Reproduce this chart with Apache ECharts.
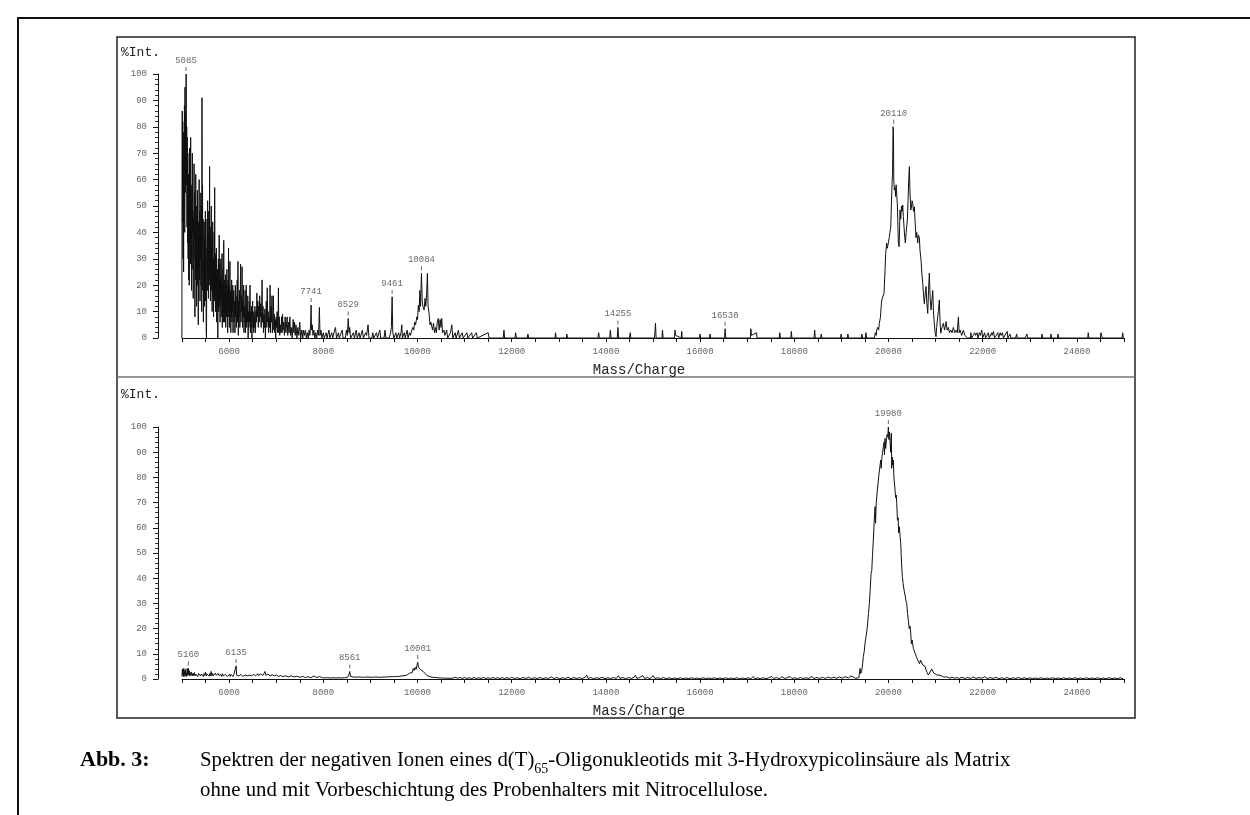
<!DOCTYPE html>
<html>
<head>
<meta charset="utf-8">
<script src="https://cdn.jsdelivr.net/npm/echarts@6/dist/echarts.min.js"></script>
<style>
html,body{margin:0;padding:0;background:#fff;}
#chart{width:1250px;height:815px;}
</style>
</head>
<body>
<div id="chart"></div>
<script>
// ---------- DATA ----------
// Upper spectrum (without nitrocellulose): [m/z, %Int]
const topSpectrum = [
[4998,0],[5000,45],[5005,86],[5010,44],[5016,82],[5022,30],[5028,78],[5034,25],[5040,72],[5046,48],[5052,88],[5058,40],[5064,95],[5070,55],[5076,85],[5082,62],[5088,100],[5094,58],[5100,80],[5106,42],[5112,76],[5118,36],[5124,70],[5130,30],[5136,62],[5142,22],[5148,56],[5154,20],[5160,72],[5166,35],[5172,64],[5178,28],[5184,76],[5190,38],[5196,58],[5202,18],[5208,52],[5214,26],[5220,70],[5226,40],[5232,48],[5238,15],[5244,45],[5250,30],[5256,66],[5262,38],[5268,55],[5274,8],[5280,40],[5286,22],[5292,62],[5298,30],[5304,50],[5310,12],[5316,46],[5322,25],[5328,56],[5334,20],[5340,36],[5346,5],[5352,44],[5358,28],[5364,60],[5370,22],[5376,48],[5382,14],[5388,42],[5394,30],[5400,55],[5406,20],[5412,50],[5418,10],[5424,91],[5430,35],[5436,58],[5442,18],[5448,45],[5454,6],[5460,30],[5466,20],[5472,44],[5478,12],[5484,38],[5490,22],[5496,48],[5502,14],[5508,34],[5514,2],[5520,0],[5526,28],
[5532,45],[5538,18],[5544,52],[5550,25],[5556,40],[5562,15],[5568,48],[5574,22],[5580,36],[5586,65],[5592,20],[5598,42],[5604,14],[5610,38],[5616,24],[5622,50],[5628,18],[5634,34],[5640,10],[5646,30],[5652,44],[5658,16],[5664,30],[5670,8],[5676,26],[5682,40],[5688,14],[5694,57],[5700,20],[5706,32],[5712,10],[5718,28],[5724,18],[5730,34],[5736,6],[5742,22],[5748,12],[5754,26],[5760,0],[5766,20],
[5772,30],[5778,10],[5784,24],[5790,39],[5796,12],[5802,28],[5808,6],[5814,22],[5820,14],[5826,30],[5832,8],[5838,24],[5844,16],[5850,32],[5856,4],[5862,20],[5868,12],[5874,26],[5880,6],[5886,37],[5892,14],[5898,22],[5904,6],[5910,18],[5916,10],[5922,24],[5928,4],[5934,16],[5940,20],[5946,8],[5952,26],[5958,10],[5964,18],[5970,2],[5976,22],[5982,12],[5988,34],[5994,8],[6000,20],[6006,4],[6012,16],[6018,29],[6024,10],[6030,18],[6036,2],[6042,14],[6048,8],[6054,22],[6060,6],[6066,16],[6072,10],[6078,20],[6084,2],[6090,12],
[6100,18],[6108,6],[6116,14],[6124,2],[6132,20],[6140,8],[6148,16],[6156,4],[6164,12],[6172,22],[6180,6],[6188,29],[6196,1],[6204,14],[6212,8],[6220,18],[6228,4],[6236,12],[6244,28],[6252,6],[6260,16],[6268,10],[6276,27],[6284,4],[6292,14],[6300,8],[6308,20],[6316,2],[6324,12],[6332,6],[6340,18],[6348,2],[6356,10],[6364,20],[6372,4],[6380,12],[6388,6],[6396,16],[6404,0],[6412,10],[6420,4],[6428,14],[6436,6],[6444,20],[6452,2],[6460,10],[6468,4],[6476,12],[6484,0],[6492,8],[6500,14],[6508,4],[6516,10],[6524,2],[6532,8],[6540,4],[6548,12],
[6560,2],[6570,10],[6580,6],[6590,17],[6600,8],[6610,14],[6620,4],[6630,12],[6640,6],[6650,16],[6660,8],[6670,13],[6680,4],[6690,10],[6700,22],[6710,6],[6720,12],[6730,2],[6740,9],[6750,4],[6760,11],[6770,0],[6780,8],[6790,14],[6800,4],[6810,19],[6820,6],[6830,10],[6840,2],[6850,8],[6860,4],[6870,20],[6880,2],[6890,12],[6900,6],[6910,16],[6920,2],[6930,8],[6940,16],[6950,3],[6960,9],[6970,2],[6980,7],[6990,0],[7000,8],[7010,4],[7020,10],[7030,2],[7040,6],[7047,19],[7055,2],[7065,8],[7075,1],[7085,5],
[7100,2],[7115,8],[7125,2],[7135,9],[7145,3],[7160,6],[7175,1],[7190,8],[7205,2],[7220,5],[7232,8],[7245,1],[7260,6],[7275,2],[7290,8],[7305,1],[7320,4],[7340,0],[7360,7],[7375,2],[7390,6],[7405,1],[7420,5],[7440,0],[7460,4],[7480,1],[7500,6],[7520,0],[7545,3],[7565,0],[7580,3],[7600,1],[7620,3],[7640,0],[7660,2],[7680,0],[7700,3],[7715,1],[7730,5],[7741,12.5],[7750,3],[7765,5],[7780,1],[7800,3],[7820,0],[7840,2],[7860,0],[7880,3],[7900,1],[7917,11.6],[7930,1],[7950,3],[7970,0],
[8000,2],[8020,0],[8060,2],[8080,0],[8120,3],[8140,0],[8180,2],[8200,0],[8240,3],[8260,4],[8280,0],[8320,2],[8340,0],[8400,3],[8420,0],[8470,0],[8490,3],[8510,1],[8529,7.4],[8545,2],[8560,4],[8580,0],[8620,0],[8640,2],[8660,0],[8700,3],[8720,0],[8760,2],[8780,0],[8830,3],[8850,0],[8900,2],[8920,1],[8950,5],[8970,0],[9030,0],[9050,2],[9070,0],[9130,2],[9150,0],[9200,3],[9220,0],[9290,0],[9310,3],[9330,0],[9400,0],[9430,2],[9445,4],[9461,15.6],[9475,2],[9500,0],
[9540,2],[9560,0],[9600,2],[9620,0],[9650,2],[9666,5],[9680,0],[9720,2],[9740,0],[9780,3],[9800,0],[9830,2],[9850,1],[9880,3],[9900,4],[9920,3],[9940,6],[9960,5],[9985,8],[10000,7],[10019,12.5],[10035,10],[10050,18],[10065,12],[10084,24.5],[10100,14],[10115,12],[10140,10.6],[10160,15],[10176,12],[10195,17],[10210,24.5],[10225,12],[10246,9.3],[10265,5],[10285,6],[10303,4.3],[10320,3],[10340,5.6],[10360,2],[10380,4],[10400,2],[10420,6],[10440,7.4],[10460,3],[10480,7],[10500,4],[10515,7.4],[10530,2],[10560,3],[10580,1],[10620,3],[10640,0],[10700,2],[10728,5],[10750,0],[10800,2],[10820,0],[10870,3],[10890,0],[10950,2],[10970,0],
[11050,2],[11070,0],[11150,2],[11170,0],[11250,2],[11270,0],[11500,2],[11520,0],[11820,0],[11836,3],[11850,0],[12070,0],[12083,2],[12100,0],[12330,0],[12344,1.5],[12360,0],[12920,0],[12930,2],[12945,0],[13160,0],[13170,1.5],[13185,0],[13830,0],[13847,2],[13860,0],[14080,0],[14095,3],[14110,0],[14240,0],[14255,4],[14270,0],[14500,0],[14517,2],[14530,0],[15030,0],[15040,2],[15053,5.6],[15066,0],[15190,0],[15201,3],[15215,0],[15455,0],[15469,3],[15480,1],[15600,0],[15610,2.5],[15620,0],[15990,0],[15999,1.5],[16010,0],[16200,0],[16210,1.5],[16225,0],[16520,0],[16530,3.5],[16545,0],[17065,0],[17078,3.5],[17090,1],[17197,2],[17210,0],[17680,0],[17692,2],[17705,0],[17925,0],[17937,2.5],[17950,0],[18420,0],[18432,3],[18445,0],[18560,0],[18572,1.5],[18585,0],[18980,0],[18995,1.5],[19010,0],[19125,0],[19138,1.5],[19150,0],[19420,0],[19434,1.5],[19450,0],[19510,0],[19520,2],[19535,0],
[19700,0],[19720,2],[19740,1],[19750,3],[19770,4],[19790,3],[19805,5.5],[19830,8],[19845,12],[19857,14.4],[19880,15],[19905,17],[19925,25],[19940,32],[19948,33.3],[19960,36],[19975,34],[19997,35.9],[20015,38],[20030,40],[20048,42],[20060,50],[20076,58.6],[20085,62],[20097,80],[20105,78],[20112,60],[20125,56],[20140,57],[20150,53.6],[20162,58],[20175,58],[20190,50],[20200,42],[20210,36],[20225,34.6],[20245,48.5],[20260,45],[20275,50],[20290,48],[20302,50.4],[20315,46],[20330,42],[20345,38],[20358,36],[20375,40],[20400,44.7],[20415,52],[20430,60],[20443,64.9],[20455,56],[20473,48.5],[20490,50],[20500,52],[20515,51],[20530,48],[20549,49.7],[20565,44],[20584,38],[20600,40],[20621,36],[20635,39],[20655,38],[20670,33],[20691,29.5],[20710,24],[20727,20.7],[20745,16],[20761,13],[20780,17],[20797,19.5],[20815,13],[20833,9.3],[20850,18],[20867,24.6],[20885,15],[20903,10.6],[20920,14],[20939,18],[20955,10],[20967,6.8],[20990,2],[21009,0.5],[21022,4],[21037,6.8],[21058,10],[21080,14.4],[21095,6],[21110,1.8],[21135,4],[21165,5.6],[21190,3],[21210,5],[21223,6.2],[21245,3],[21271,4],[21295,2],[21322,3],[21350,2],[21377,4],[21405,2],[21435,3],[21460,2],[21484,8],[21500,2],[21520,3],[21555,1],[21590,3],[21620,1],[21646,1],[21680,0],
[21740,0],[21750,2],[21762,0],[21800,1],[21830,2],[21850,1],[21880,2],[21900,0],[21930,2],[21950,1],[21980,3],[22000,0],[22040,2],[22060,0],[22120,2],[22140,0],[22190,2],[22200,1],[22230,2.5],[22250,0],[22320,2],[22340,0],[22370,2],[22390,1],[22420,2],[22440,0],[22520,2.5],[22535,0],[22580,1.5],[22600,0],[22700,0],[22720,1.5],[22735,0],[22900,0],[22940,1.5],[22955,0],[23250,0],[23260,1.5],[23275,0],[23440,0],[23450,1.5],[23465,0],[23590,0],[23600,1.5],[23615,0],[24230,0],[24240,2],[24255,0],[24500,0],[24510,2],[24525,1.5],[24540,0],[24960,0],[24972,2],[24985,0]
];

// Lower spectrum (with nitrocellulose): [m/z, %Int]
const bottomSpectrum = [
[5000,1],[5008,4],[5015,1.5],[5022,3.5],[5030,1],[5038,4.2],[5046,1.5],[5054,3],[5062,1],[5070,3.8],[5080,1.5],[5090,2.5],[5100,1],[5110,4.2],[5120,1.5],[5130,3],[5136,4.2],[5145,1.5],[5155,3.3],[5165,1.2],[5175,2.5],[5185,1.5],[5200,2.8],[5215,1.2],[5230,2.2],[5245,1.4],[5260,2.6],[5275,1.2],[5290,2],[5305,1.3],[5320,2.4],[5335,1],[5350,2.2],[5365,1.5],[5380,2.6],[5395,1.2],[5410,2],[5425,1.4],[5440,2.5],[5455,1],[5470,2.2],[5485,1.4],[5500,2.8],[5515,1.2],[5530,2],[5545,1.5],[5560,2.4],[5575,1.1],[5590,2.2],[5605,1.4],[5620,3],[5635,1.2],[5650,2.2],[5665,1.3],[5680,2],[5695,1.1],[5710,2.3],[5725,1.5],[5740,2.1],[5755,1],[5770,2.2],[5785,1.4],[5800,2],[5815,1.2],[5830,1.8],[5845,1],[5860,2.1],[5875,1.3],[5890,1.9],[5905,1],[5920,1.8],[5935,1.2],[5950,2],[5965,1],[5980,1.7],[5995,1.1],[6010,1.9],[6025,1],[6040,1.8],[6055,1.2],[6070,1.6],[6085,1],[6100,1.8],[6115,1.2],[6130,2],[6149,5.2],[6160,1.5],[6175,1],[6190,1.7],[6205,1.2],[6220,1.6],[6235,0.9],[6250,1.8],[6265,1.1],[6280,1.5],[6295,1],[6310,1.7],[6325,1.2],[6340,1.6],[6355,1],[6370,1.8],[6385,1.3],[6400,1.6],[6415,1],[6430,1.5],[6445,1.2],[6460,1.9],[6475,1.3],[6490,1.7],[6505,1.2],[6520,1.8],[6535,1.4],[6550,2],[6565,1.3],[6580,1.9],[6595,1.5],[6610,2.1],[6625,1.3],[6640,1.8],[6655,1.4],[6670,2],[6685,1.5],[6700,2.1],[6715,1.4],[6730,2],[6745,1.6],[6764,3],[6780,1.5],[6795,2.2],[6810,1.3],[6825,2],[6840,1.4],[6855,1.9],[6870,1.2],[6885,1.8],[6900,1.2],[6915,1.7],[6930,1.1],[6945,1.6],[6960,1.2],[6975,1.8],[6990,1],[7005,1.6],[7020,1.1],[7035,1.5],[7050,1],[7065,1.5],[7080,0.9],[7095,1.4],[7110,1],[7125,1.5],[7140,0.9],[7160,1.4],[7180,0.8],[7200,1.3],[7220,0.9],[7240,1.4],[7260,0.8],[7280,1.2],[7300,0.8],[7320,1.3],[7340,0.7],[7360,1.2],[7380,0.8],[7400,1.3],[7420,0.7],[7440,1.1],[7460,0.8],[7480,1.2],[7500,0.7],[7520,1.1],[7540,0.6],[7560,1],[7580,0.7],[7600,1.1],[7620,0.6],[7640,1],[7660,0.6],[7680,0.9],[7700,0.6],[7720,1],[7740,0.5],[7760,0.9],[7780,0.6],[7800,1.2],[7820,0.5],[7840,0.9],[7860,0.6],[7880,0.8],[7900,0.5],[7920,1],[7940,0.5],[7960,0.9],[7980,0.5],[8000,0.8],[8030,0.5],[8060,0.9],[8090,0.5],[8120,0.8],[8150,0.4],[8180,0.9],[8210,0.5],[8240,0.8],[8270,0.4],[8300,0.7],[8330,0.5],[8360,0.8],[8390,0.4],[8420,0.7],[8450,0.5],[8480,0.8],[8510,0.6],[8540,1.5],[8561,3],[8575,1],[8600,0.6],[8630,0.8],[8660,0.4],[8690,0.7],[8720,0.4],[8750,0.8],[8780,0.4],[8810,0.7],[8840,0.3],[8870,0.7],[8900,0.4],[8930,0.8],[8960,0.4],[8990,0.7],[9020,0.3],[9050,0.7],[9080,0.4],[9110,0.8],[9140,0.4],[9170,0.7],[9200,0.3],[9230,0.7],[9260,0.4],[9290,0.8],[9320,0.4],[9350,0.8],[9380,0.5],[9410,0.9],[9440,0.5],[9470,0.9],[9500,0.6],[9530,1],[9560,0.6],[9590,1],[9620,0.7],[9650,1.2],[9680,0.8],[9710,1.3],[9740,0.9],[9770,1.5],[9800,1.2],[9830,2.3],[9850,2],[9870,3],[9890,2.6],[9910,4.2],[9930,3.4],[9950,4.6],[9970,3.8],[9990,5.5],[10005,6.7],[10020,4.6],[10035,5.2],[10050,4.9],[10065,3.8],[10080,4.4],[10100,3.7],[10120,3],[10140,2.6],[10160,2.2],[10180,1.7],[10200,1.4],[10225,1.7],[10250,1],[10280,1.3],[10310,0.7],[10340,1.1],[10370,0.6],[10400,1],[10430,0.5],[10460,0.9],[10490,0.4],[10520,0.8],[10550,0.4],[10580,0.9],[10610,0.3],[10640,0.7],[10670,0.3],[10700,0.6],[10750,0.3],[10800,0.7],[10850,0.3],[10900,0.6],[10950,0.2],[11000,0.6],[11050,0.2],[11100,0.5],[11150,0.2],[11200,0.6],[11250,0.2],[11300,0.5],[11350,0.2],[11400,0.6],[11450,0.2],[11500,0.5],[11550,0.2],[11600,0.6],[11650,0.2],[11700,0.5],[11750,0.2],[11800,0.6],[11850,0.1],
[11900,0.6],[11950,0.1],[12000,0.7],[12060,0.2],[12120,0.5],[12180,0.1],[12240,0.6],[12300,0.2],[12360,0.7],[12420,0.1],[12480,0.5],[12540,0.2],[12600,0.6],[12660,0.1],[12720,0.5],[12780,0.2],[12840,0.8],[12900,0.2],[12960,0.6],[13020,0.1],[13080,0.5],[13140,0.2],[13200,0.7],[13260,0.1],[13320,0.6],[13380,0.2],[13440,0.5],[13500,0.2],[13560,0.7],[13593,1.5],[13620,0.2],[13680,0.6],[13740,0.1],[13800,0.5],[13860,0.2],[13920,0.7],[13980,0.1],[14040,0.5],[14100,0.2],[14160,0.6],[14220,0.2],[14265,1.3],[14300,0.2],[14360,0.6],[14420,0.1],[14480,0.6],[14540,0.2],[14600,0.7],[14625,1.5],[14660,0.2],[14720,0.6],[14780,1.4],[14820,0.2],[14880,0.6],[14940,0.1],[15000,1.4],[15040,0.2],[15100,0.5],[15160,0.1],[15220,0.6],[15280,0.1],[15340,0.5],[15400,0.1],[15460,0.4],[15520,0.1],[15580,0.5],[15640,0.1],[15700,0.4],[15760,0.1],[15820,0.5],[15880,0.1],[15940,0.4],[16000,0.1],[16060,0.5],[16120,0.1],[16180,0.4],[16240,0.1],[16300,0.5],[16360,0.1],[16420,0.4],[16480,0.1],[16540,0.5],[16600,0.1],[16660,0.4],[16720,0.1],[16780,0.5],[16840,0.1],[16900,0.4],[16960,0.1],[17020,0.5],[17080,0.1],[17125,1],[17160,0.1],[17220,0.4],[17280,0.1],[17340,0.5],[17400,0.1],[17460,0.5],[17520,1],[17560,0.2],[17620,0.6],[17680,0.1],[17740,0.9],[17800,0.2],[17860,0.6],[17910,1],[17950,0.2],[18010,0.5],[18070,0.1],[18130,0.6],[18190,0.2],[18250,0.5],[18310,0.2],[18370,1],[18420,0.2],[18480,0.6],[18540,0.2],[18600,0.7],[18660,0.2],[18720,0.8],[18780,0.3],[18840,0.7],[18900,0.3],[18960,0.8],[19020,0.3],[19080,0.9],[19115,1.5],[19150,0.4],[19200,1.2],[19220,1.5],
[19250,0.8],[19300,0.3],[19340,1],[19370,0.5],[19396,4.2],[19410,2.2],[19430,3],[19450,6],[19466,8.9],[19485,11],[19502,14.2],[19525,17],[19551,20.7],[19575,26],[19594,30],[19610,35],[19630,41.9],[19645,43],[19660,49],[19678,55.2],[19695,62],[19714,68.4],[19725,61.8],[19740,70],[19763,75],[19780,78],[19799,81.6],[19815,84],[19835,86.9],[19845,83.6],[19860,88],[19875,90],[19891,92.2],[19905,94],[19915,89],[19927,95.5],[19940,91.5],[19955,95],[19970,97],[19985,96],[19997,100],[20010,95],[20020,98],[20033,94.8],[20045,90],[20061,97.5],[20068,83.6],[20080,88],[20090,85],[20103,86.9],[20115,80],[20133,76.3],[20150,72],[20165,73],[20175,69.7],[20190,63],[20205,64],[20215,58],[20230,60.4],[20245,57],[20260,53.8],[20277,46],[20294,40.6],[20310,38],[20330,35.3],[20355,33],[20370,31],[20387,30],[20405,26],[20421,23.4],[20440,20],[20458,21],[20473,18.1],[20485,14],[20500,15.5],[20530,12],[20564,10.3],[20590,9],[20610,8],[20634,7.6],[20660,6],[20680,7.5],[20706,7],[20730,5.5],[20750,6],[20776,5],[20800,3.5],[20820,2.5],[20846,1.6],[20870,2],[20895,3.2],[20915,4],[20940,3.6],[20960,2.4],[20990,2],[21024,1.6],[21060,1.2],[21095,1.5],[21130,1],[21170,0.8],[21210,0.5],[21250,0.8],[21300,0.3],[21350,0.7],[21400,0.3],[21450,0.6],[21500,0.2],[21560,0.7],[21620,0.2],[21680,0.6],[21740,0.2],[21800,0.8],[21860,0.2],[21920,0.6],[21980,0.3],[22040,0.9],[22100,0.2],
[22160,0.6],[22220,0.2],[22280,0.7],[22340,0.1],[22400,0.5],[22460,0.2],[22520,0.6],[22580,0.1],[22640,0.5],[22700,0.2],[22760,0.6],[22820,0.1],[22880,0.5],[22940,0.1],[23000,0.5],[23060,0.1],[23120,0.4],[23180,0.1],[23240,0.5],[23300,0.1],[23360,0.4],[23420,0.1],[23480,0.5],[23540,0.1],[23600,0.4],[23660,0.1],[23720,0.5],[23780,0.1],[23840,0.4],[23900,0.1],[23960,0.5],[24020,0.1],[24080,0.4],[24140,0.1],[24200,0.5],[24260,0.1],[24320,0.4],[24380,0.1],[24440,0.5],[24500,0.1],[24560,0.4],[24620,0.1],[24680,0.5],[24740,0.1],[24800,0.4],[24860,0.1],[24920,0.5],[24980,0.1]
];

// Annotated peaks: [m/z, %Int, label]
const topPeaks = [[5085,100,'5085'],[7741,12.5,'7741'],[8529,7.4,'8529'],[9461,15.6,'9461'],[10084,24.5,'10084'],[14255,4,'14255'],[16530,3.5,'16530'],[20110,80,'20110']];
const bottomPeaks = [[5136,4.2,'5160'],[6149,5.2,'6135'],[8561,3,'8561'],[10005,6.7,'10001'],[19997,100,'19980']];

const xTickLabels = [6000,8000,10000,12000,14000,16000,18000,20000,22000,24000];
const yAxisTitle = '%Int.';
const xAxisTitle = 'Mass/Charge';
const captionLabel = 'Abb. 3:';
const captionLine1a = 'Spektren der negativen Ionen eines d(T)';
const captionSub = '65';
const captionLine1b = '-Oligonukleotids mit 3-Hydroxypicolinsäure als Matrix';
const captionLine2 = 'ohne und mit Vorbeschichtung des Probenhalters mit Nitrocellulose.';

// ---------- CHART ----------
const MONO = '"Liberation Mono", "DejaVu Sans Mono", monospace';
const SERIF = '"Liberation Serif", "DejaVu Serif", serif';
const chart = echarts.init(document.getElementById('chart'), null, {renderer:'canvas'});

function xAxisCfg(gridIndex){
  return {
    type:'value', gridIndex, min:5000, max:25000, interval:500,
    name: xAxisTitle, nameLocation:'middle', nameGap:25,
    nameTextStyle:{fontFamily:MONO, fontSize:14, color:'#222', padding:[0,28,0,0]},
    axisLine:{show:true, onZero:false, lineStyle:{color:'#111', width:1}},
    axisTick:{show:true, inside:false, length:4, lineStyle:{color:'#111'}},
    axisLabel:{show:true, margin:9, fontFamily:MONO, fontSize:9, color:'#666',
      formatter: v => xTickLabels.indexOf(v) >= 0 ? String(v) : ''},
    splitLine:{show:false}
  };
}
function yAxisCfg(gridIndex){
  return {
    type:'value', gridIndex, min:0, max:100, interval:10, offset:24,
    axisLine:{show:true, lineStyle:{color:'#111', width:1}},
    axisTick:{show:true, length:5, lineStyle:{color:'#111'}},
    minorTick:{show:true, splitNumber:5, length:3, lineStyle:{color:'#333'}},
    axisLabel:{show:true, margin:11, fontFamily:MONO, fontSize:9, color:'#666'},
    splitLine:{show:false}
  };
}
function peakSeries(idx, data){
  return {
    type:'scatter', xAxisIndex:idx, yAxisIndex:idx, data,
    symbol:'rect', symbolSize:[1,4], symbolOffset:[0,-5],
    itemStyle:{color:'#444'}, silent:true, z:5,
    label:{show:true, position:'top', distance:2, formatter:p=>p.data[2],
      fontFamily:MONO, fontSize:9, color:'#444'}
  };
}
function lineSeries(idx, data){
  return {
    type:'line', xAxisIndex:idx, yAxisIndex:idx, data, showSymbol:false, symbol:'none',
    sampling:null, smooth:false, silent:true,
    lineStyle:{color:'#111', width:1}
  };
}

const option = {
  animation:false,
  backgroundColor:'#fff',
  grid:[
    {left:182, width:942, top:74, height:264},
    {left:182, width:942, top:427, height:252}
  ],
  xAxis:[xAxisCfg(0), xAxisCfg(1)],
  yAxis:[yAxisCfg(0), yAxisCfg(1)],
  series:[lineSeries(0, topSpectrum), lineSeries(1, bottomSpectrum), peakSeries(0, topPeaks), peakSeries(1, bottomPeaks)],
  graphic:[
    {type:'rect', shape:{x:18, y:18, width:1300, height:900}, style:{fill:null, stroke:'#111', lineWidth:2}, silent:true},
    {type:'rect', shape:{x:117, y:37, width:1018, height:681}, style:{fill:null, stroke:'#222', lineWidth:1.5}, silent:true},
    {type:'line', shape:{x1:117, y1:377, x2:1135, y2:377}, style:{stroke:'#777', lineWidth:1.5}, silent:true},
    {type:'text', x:121, y:53, style:{text:yAxisTitle, fontFamily:MONO, fontSize:13, fill:'#222', verticalAlign:'middle'}},
    {type:'text', x:121, y:395, style:{text:yAxisTitle, fontFamily:MONO, fontSize:13, fill:'#222', verticalAlign:'middle'}},
    {type:'text', x:80, y:745, style:{text:captionLabel, fontFamily:SERIF, fontSize:22, fontWeight:'bold', fill:'#000', verticalAlign:'top', lineHeight:30}},
    {type:'text', x:200, y:746, style:{
      text: captionLine1a + '{sub|' + captionSub + '}' + captionLine1b + '\n' + captionLine2,
      fontFamily:SERIF, fontSize:20.8, fill:'#000', verticalAlign:'top', lineHeight:30,
      rich:{sub:{fontFamily:SERIF, fontSize:14, lineHeight:16, verticalAlign:'bottom', fill:'#000'}}
    }}
  ]
};
chart.setOption(option);
</script>
</body>
</html>
